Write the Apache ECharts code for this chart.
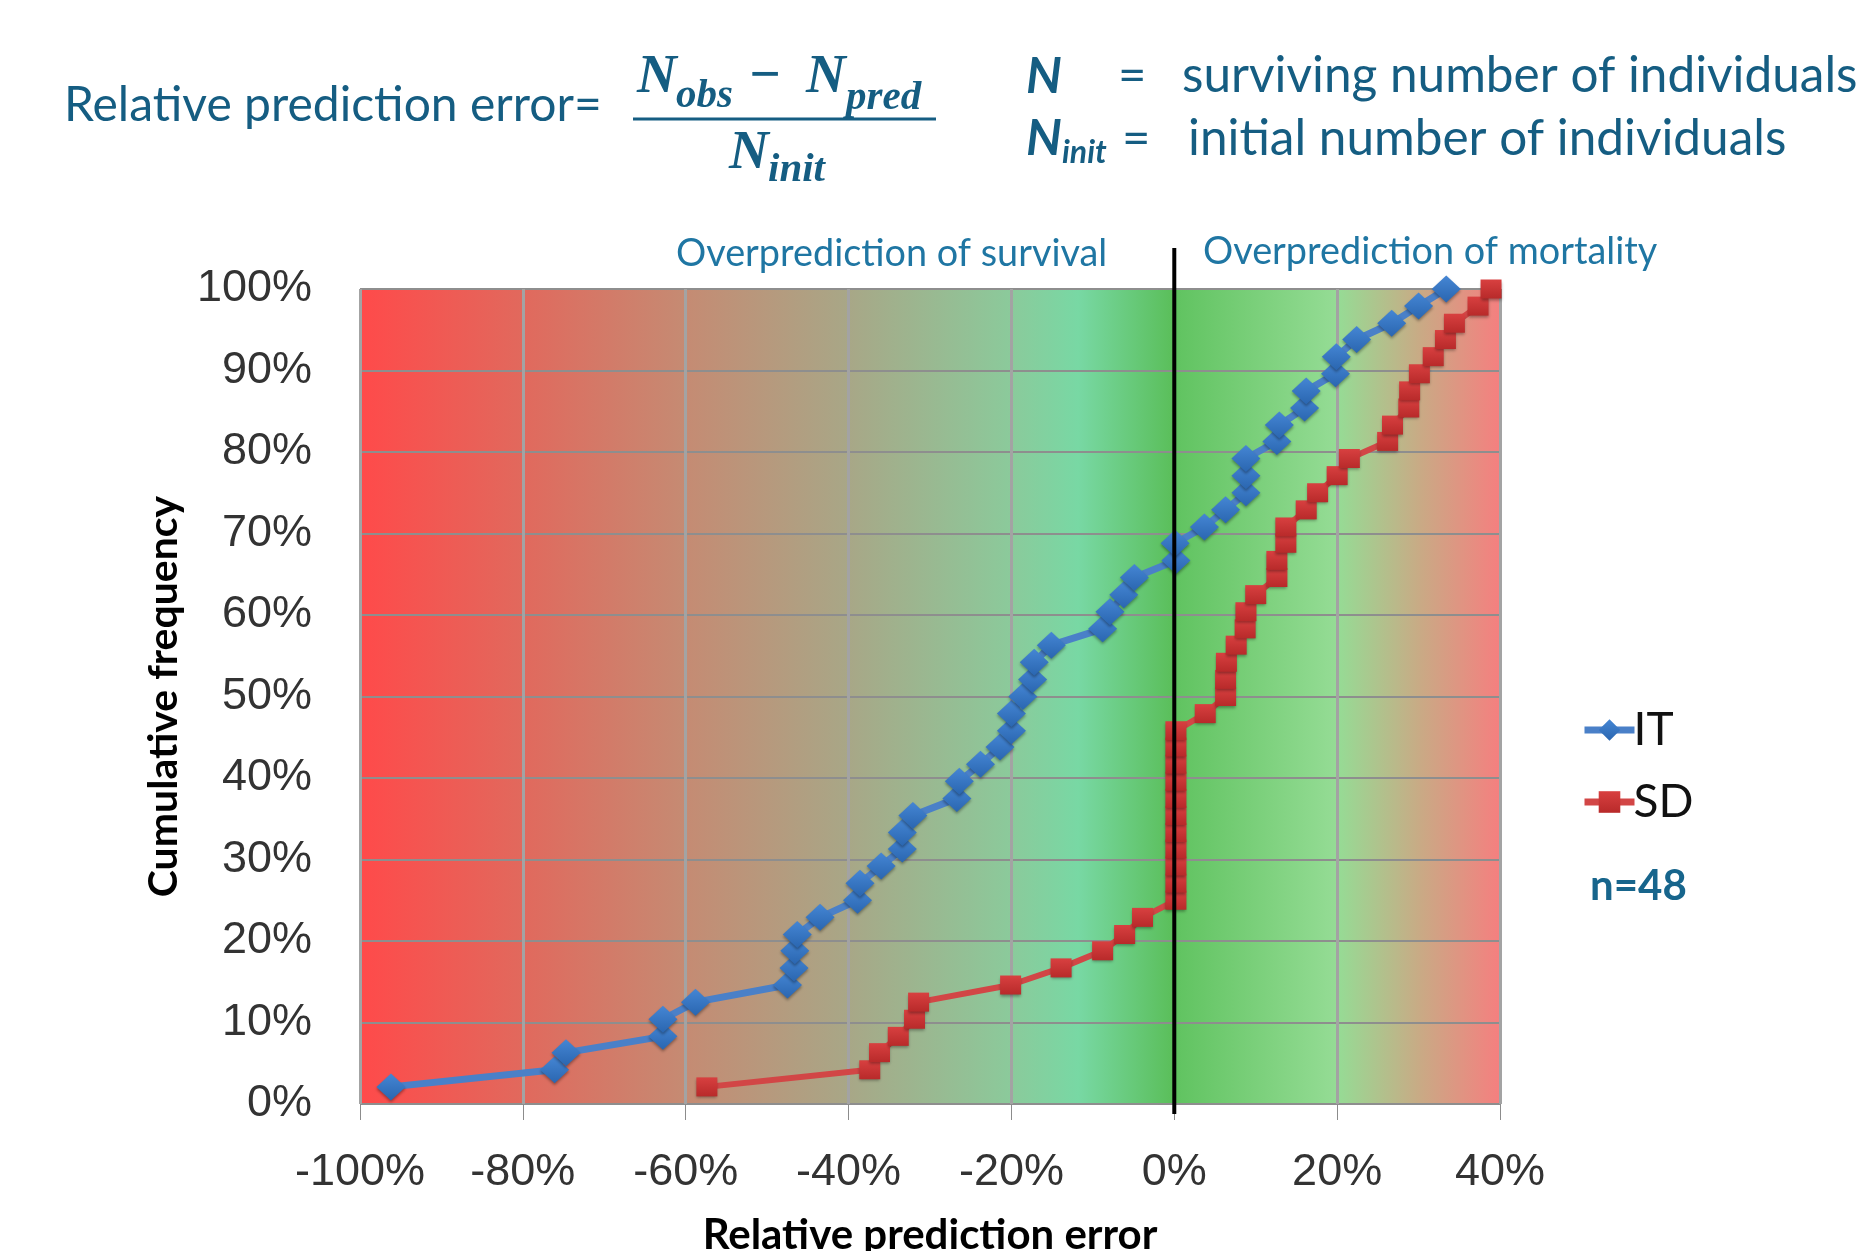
<!DOCTYPE html>
<html>
<head>
<meta charset="utf-8">
<script src="https://cdn.jsdelivr.net/npm/echarts@6/dist/echarts.min.js"></script>
<style>
html,body{margin:0;padding:0;background:#fff;}
#chart{width:1867px;height:1251px;}
</style>
</head>
<body>
<div id="chart"></div>
<script>
// Cumulative frequency (%) of the 48 cases
const cumFreq = [2.1, 4.2, 6.3, 8.3, 10.4, 12.5, 14.6, 16.7, 18.8, 20.8, 22.9, 25.0,
  27.1, 29.2, 31.3, 33.3, 35.4, 37.5, 39.6, 41.7, 43.8, 45.8, 47.9, 50.0,
  52.1, 54.2, 56.3, 58.3, 60.4, 62.5, 64.6, 66.7, 68.8, 70.8, 72.9, 75.0,
  77.1, 79.2, 81.3, 83.3, 85.4, 87.5, 89.6, 91.7, 93.8, 95.8, 97.9, 100.0];

// Relative prediction error (%) for IT
const itError = [-96.2, -76.1, -74.7, -62.8, -62.8, -58.8, -47.5, -46.7, -46.6, -46.3, -43.5, -38.9,
  -38.6, -36.0, -33.4, -33.4, -32.1, -26.7, -26.4, -23.8, -21.4, -20.0, -20.0, -18.6,
  -17.4, -17.2, -15.1, -8.8, -7.9, -6.2, -4.9, 0.2, 0.1, 3.7, 6.3, 8.8,
  8.8, 8.8, 12.6, 12.9, 16.0, 16.2, 19.8, 19.9, 22.4, 26.7, 30.0, 33.4];

// Relative prediction error (%) for SD
const sdError = [-57.4, -37.4, -36.2, -33.9, -31.9, -31.4, -20.1, -13.9, -8.8, -6.1, -3.9, 0.2,
  0.2, 0.2, 0.2, 0.2, 0.2, 0.2, 0.2, 0.2, 0.2, 0.2, 3.8, 6.3,
  6.3, 6.4, 7.6, 8.7, 8.8, 10.0, 12.6, 12.6, 13.7, 13.7, 16.2, 17.6,
  20.0, 21.5, 26.2, 26.8, 28.8, 28.9, 30.1, 31.8, 33.3, 34.4, 37.3, 38.9];

const seriesNames = ['IT', 'SD'];
const xTicks = {min: -100, max: 40, interval: 20};
const yTicks = {min: 0, max: 100, interval: 10};
const sampleLabel = 'n=48';

const TEAL = '#155d82';
const chart = echarts.init(document.getElementById('chart'), null, {renderer: 'canvas'});

function pairs(xs, ys) { return xs.map((x, i) => [x, ys[i]]); }

const bgGradient = {
  type: 'linear', x: 0, y: 0, x2: 1, y2: 0,
  colorStops: [
    {offset: 0.00, color: '#ff4a4a'},
    {offset: 0.143, color: '#e1695d'},
    {offset: 0.286, color: '#c58b73'},
    {offset: 0.429, color: '#a8a787'},
    {offset: 0.571, color: '#8bca9b'},
    {offset: 0.63, color: '#78d8a4'},
    {offset: 0.712, color: '#5bbf5b'},
    {offset: 0.72, color: '#62c462'},
    {offset: 0.857, color: '#95dc95'},
    {offset: 0.93, color: '#c9aa85'},
    {offset: 1.00, color: '#f57f7f'}
  ]
};

const option = {
  animation: false,
  backgroundColor: '#ffffff',
  grid: {
    left: 360, right: 367, top: 289, bottom: 147,
    outerBoundsMode: 'none', containLabel: false,
    show: true, backgroundColor: bgGradient, borderWidth: 0
  },
  legend: {
    orient: 'vertical',
    left: 1576, top: 702,
    itemWidth: 50, itemHeight: 27, itemGap: 26,
    data: seriesNames,
    lineStyle: {width: 7},
    textStyle: {fontFamily: 'Lato', fontSize: 46, color: '#111', padding: [0, 0, 0, -6]}
  },
  xAxis: {
    type: 'value', min: xTicks.min, max: xTicks.max, interval: xTicks.interval,
    name: 'Relative prediction error', nameLocation: 'middle', nameGap: 110,
    nameTextStyle: {fontFamily: 'Lato', fontWeight: 'bold', fontSize: 42, color: '#000'},
    axisLine: {show: false},
    axisTick: {show: true, length: 16, lineStyle: {color: '#8c8c8c', width: 1}},
    axisLabel: {formatter: '{value}%', fontFamily: 'Liberation Sans', fontSize: 45, color: '#333', margin: 46},
    splitLine: {show: true, lineStyle: {color: '#a3a3a3', width: 3}}
  },
  yAxis: {
    type: 'value', min: yTicks.min, max: yTicks.max, interval: yTicks.interval,
    name: 'Cumulative frequency', nameLocation: 'middle', nameGap: 176,
    nameTextStyle: {fontFamily: 'Lato', fontWeight: 'bold', fontSize: 41, color: '#000'},
    axisLine: {show: false},
    axisTick: {show: true, length: 16, lineStyle: {color: '#8c8c8c', width: 1}},
    axisLabel: {formatter: '{value}%', fontFamily: 'Liberation Sans', fontSize: 45, color: '#333', margin: 48},
    splitLine: {show: true, lineStyle: {color: '#8e8e8e', width: 2}}
  },
  series: [
    {
      name: seriesNames[0], type: 'line', data: pairs(itError, cumFreq),
      symbol: 'diamond', symbolSize: [29, 27],
      lineStyle: {color: '#4a80c8', width: 7},
      itemStyle: {
        color: {type: 'linear', x: 0, y: 0, x2: 0, y2: 1,
          colorStops: [{offset: 0, color: '#4586d4'}, {offset: 1, color: '#2a66b0'}]},
        shadowBlur: 3, shadowColor: 'rgba(0,0,0,0.35)', shadowOffsetY: 2
      },
      z: 3
    },
    {
      name: seriesNames[1], type: 'line', data: pairs(sdError, cumFreq),
      symbol: 'rect', symbolSize: [21, 19],
      lineStyle: {color: '#d24646', width: 6},
      itemStyle: {
        color: {type: 'linear', x: 0, y: 0, x2: 0, y2: 1,
          colorStops: [{offset: 0, color: '#d84040'}, {offset: 1, color: '#b82a2a'}]},
        shadowBlur: 3, shadowColor: 'rgba(0,0,0,0.35)', shadowOffsetY: 2
      },
      z: 2
    }
  ]
};
chart.setOption(option);

// Positions derived from the chart's own scales
const pBottom = chart.convertToPixel({xAxisIndex: 0, yAxisIndex: 0}, [0, yTicks.min]);
const pTop = chart.convertToPixel({xAxisIndex: 0, yAxisIndex: 0}, [0, yTicks.max]);

function txt(id, x, y, text, font, fill, align, valign) {
  return {id: id, type: 'text', x: x, y: y, z: 50,
    style: {text: text, font: font, fill: fill, align: align || 'left', verticalAlign: valign || 'middle'}};
}
const serifBI = 'italic bold 55px "Liberation Serif"';
const serifSub = 'italic bold 41px "Liberation Serif"';

chart.setOption({
  graphic: {elements: [
    {id: 'zeroLine', type: 'line', z: 100,
      shape: {x1: pTop[0], y1: pTop[1] - 41, x2: pBottom[0], y2: pBottom[1] + 10},
      style: {stroke: '#000', lineWidth: 4}},
    txt('surv', 676, 254, 'Overprediction of survival', '37.8px Lato', '#1f76a3'),
    txt('mort', 1203, 252, 'Overprediction of mortality', '37.8px Lato', '#1f76a3'),
    txt('title', 64, 106, 'Relative prediction error=', '48px Lato', TEAL),
    // fraction
    txt('n1', 637, 78, 'N', serifBI, TEAL),
    txt('obs', 676, 96, 'obs', serifSub, TEAL),
    txt('minus', 748, 78, '\u2212', serifBI, TEAL),
    txt('n2', 806, 78, 'N', serifBI, TEAL),
    txt('pred', 846, 98, 'pred', serifSub, TEAL),
    {id: 'bar', type: 'line', z: 50, shape: {x1: 633, y1: 119, x2: 936, y2: 119}, style: {stroke: TEAL, lineWidth: 3}},
    txt('n3', 729, 154, 'N', serifBI, TEAL),
    txt('init', 768, 170, 'init', serifSub, TEAL),
    // definitions
    txt('dN', 1026, 77, 'N', 'italic bold 50px Lato', TEAL),
    txt('dEq1', 1118, 76, '=', '49px Lato', TEAL),
    txt('dTxt1', 1182, 76, 'surviving number of individuals', '49.5px Lato', TEAL),
    txt('dN2', 1026, 139, 'N', 'italic bold 50px Lato', TEAL),
    txt('dSub', 1062, 153, 'init', 'italic bold 32px Lato', TEAL),
    txt('dEq2', 1122, 139, '=', '49px Lato', TEAL),
    txt('dTxt2', 1188, 139, 'initial number of individuals', '49.5px Lato', TEAL),
    txt('nCount', 1590, 886, sampleLabel, 'bold 42px Lato', '#17658c')
  ]}
});
</script>
</body>
</html>
